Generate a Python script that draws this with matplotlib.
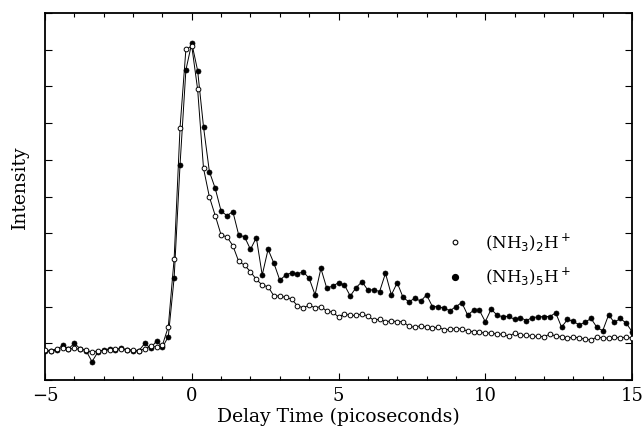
import numpy as np
import matplotlib
matplotlib.use("Agg")
import matplotlib.pyplot as plt
from matplotlib.ticker import MultipleLocator

# Delay times (ps): grid of 0.2 ps from -5 to 15
delay = np.round(np.arange(-5.0, 15.0001, 0.2), 2)

# (NH3)2H+ (open circles)
nh3_2 = [
    0.82, 0.80, 0.85, 0.88, 0.85, 0.86, 0.84, 0.82, 0.75, 0.80,
    0.80, 0.83, 0.85, 0.84, 0.83, 0.82, 0.80, 0.85, 0.92, 0.90,
    0.95, 1.45, 3.31, 6.87, 9.01, 9.10, 7.92, 5.77, 4.99,
    4.48, 3.95, 3.90, 3.66, 3.23, 3.13, 2.95, 2.74, 2.59, 2.54,
    2.29, 2.29, 2.25, 2.21, 2.02, 1.97, 2.04, 1.97, 2.00, 1.88,
    1.85, 1.72, 1.80, 1.76, 1.76, 1.80, 1.74, 1.63, 1.66, 1.59,
    1.61, 1.59, 1.59, 1.46, 1.44, 1.48, 1.44, 1.42, 1.44, 1.37,
    1.38, 1.40, 1.39, 1.33, 1.32, 1.30, 1.28, 1.28, 1.25, 1.25,
    1.19, 1.28, 1.22, 1.22, 1.19, 1.19, 1.18, 1.25, 1.20, 1.17,
    1.14, 1.17, 1.15, 1.11, 1.09, 1.17, 1.15, 1.14, 1.16, 1.15,
    1.17, 1.14,
]

# (NH3)5H+ (filled circles)
nh3_5 = [
    0.80, 0.78, 0.82, 0.95, 0.85, 1.00, 0.85, 0.80, 0.50, 0.76,
    0.82, 0.85, 0.83, 0.86, 0.82, 0.78, 0.80, 1.00, 0.86, 1.07,
    0.89, 1.18, 2.79, 5.86, 8.45, 9.18, 8.43, 6.90, 5.68,
    5.22, 4.60, 4.48, 4.59, 3.95, 3.90, 3.56, 3.88, 2.86, 3.56,
    3.18, 2.72, 2.86, 2.92, 2.89, 2.95, 2.77, 2.32, 3.04, 2.50,
    2.56, 2.65, 2.59, 2.29, 2.52, 2.68, 2.45, 2.46, 2.41, 2.91,
    2.32, 2.65, 2.25, 2.13, 2.23, 2.15, 2.32, 2.00, 2.00, 1.95,
    1.89, 2.00, 2.11, 1.77, 1.90, 1.90, 1.59, 1.93, 1.77, 1.72,
    1.74, 1.65, 1.70, 1.62, 1.70, 1.72, 1.73, 1.73, 1.83, 1.44,
    1.65, 1.60, 1.50, 1.57, 1.68, 1.44, 1.34, 1.77, 1.57, 1.68,
    1.55, 1.32,
]

labels = ["(NH$_3$)$_2$H$^+$", "(NH$_3$)$_5$H$^+$"]
xticks = [-5, 0, 5, 10, 15]

fig = plt.figure(figsize=(6.44, 4.28), dpi=100)
ax = fig.add_axes([0.0699, 0.1121, 0.9115, 0.8575])

ax.plot(delay, nh3_5, '-', color='black', lw=0.7, marker='o', ms=3.6,
        mfc='black', mec='black', mew=0.5, zorder=3)
ax.plot(delay, nh3_2, '-', color='black', lw=0.7, marker='o', ms=3.4,
        mfc='white', mec='black', mew=0.7, zorder=4)

ax.set_xlim(-5, 15)
ax.set_ylim(0, 10)
ax.set_xticks(xticks)
ax.set_xticklabels(["\u22125", "0", "5", "10", "15"])
ax.xaxis.set_minor_locator(MultipleLocator(1))
ax.yaxis.set_major_locator(MultipleLocator(1))
ax.set_yticklabels([])
ax.tick_params(which='both', direction='in', top=True, right=True,
               width=0.8, labelsize=13, pad=5)
ax.tick_params(which='major', length=5)
ax.tick_params(which='minor', length=3)
for lab in ax.get_xticklabels():
    lab.set_family('DejaVu Serif')
for s in ax.spines.values():
    s.set_linewidth(1.3)

ax.set_xlabel("Delay Time (picoseconds)", family='DejaVu Serif', fontsize=13.5, labelpad=2)
ax.set_ylabel("Intensity", family='DejaVu Serif', fontsize=13.5)
ax.yaxis.set_label_coords(-0.028, 0.525)

# legend (manual, data coordinates)
ax.plot([8.96], [3.75], 'o', ms=3.4, mfc='white', mec='black', mew=0.8)
ax.plot([8.96], [2.82], 'o', ms=4.2, mfc='black', mec='black')
ax.text(10.0, 3.75, labels[0], family='DejaVu Serif', fontsize=12, va='center')
ax.text(10.0, 2.82, labels[1], family='DejaVu Serif', fontsize=12, va='center')

fig.savefig("out.png", dpi=100)
